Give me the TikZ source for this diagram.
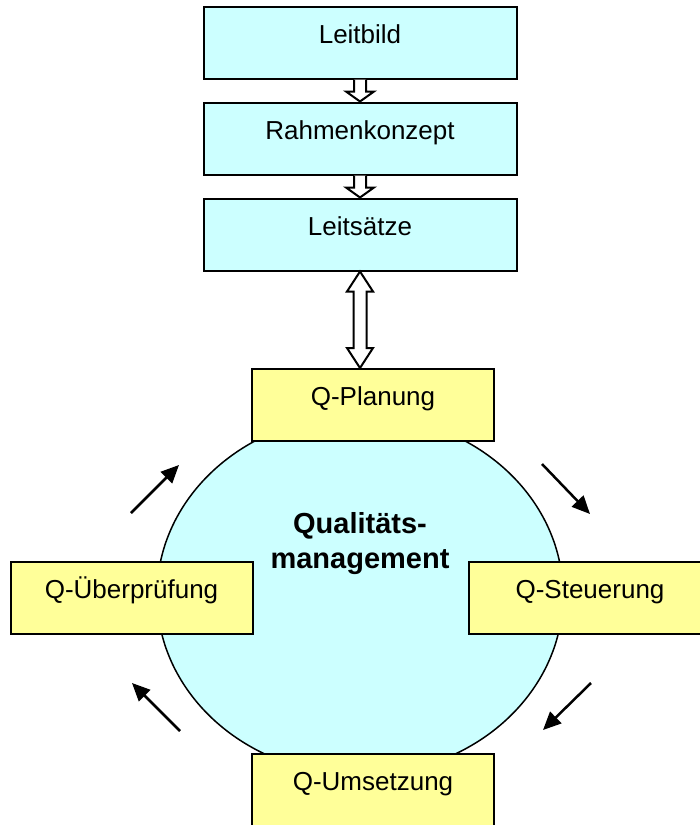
\documentclass[tikz,border=0pt]{standalone}
\usepackage{fontspec}
\setmainfont{Liberation Sans}
\usetikzlibrary{positioning,shapes.geometric,arrows.meta,calc}
\definecolor{boxcyan}{HTML}{CCFFFF}
\definecolor{boxyellow}{HTML}{FFFF99}

\begin{document}
\begin{tikzpicture}[x=0.5pt, y=-0.5pt, node distance=11pt,
  every node/.style={font=\fontsize{13pt}{15pt}\selectfont},
  topbox/.style={draw, line width=1pt, fill=boxcyan, minimum width=156.5pt, minimum height=36pt, inner sep=0pt, text height=18.5pt, text depth=17.5pt},
  qbox/.style={draw, line width=1pt, fill=boxyellow, minimum width=121pt, minimum height=36pt, inner sep=0pt, text height=18pt, text depth=18pt},
  flowarrow/.style={line width=1.25pt, -{Triangle[length=9pt,width=8pt]}},
  hollow/.style={draw, line width=1pt, fill=white, line join=miter}]

\useasboundingbox (0,0) rectangle (700,825);

% Top boxes
\node (leitbild) [topbox] at (360,42.5) {Leitbild};
\node (rahmen) [topbox, below=of leitbild] {Rahmenkonzept};
\node (leitsaetze) [topbox, below=of rahmen] {Leitsätze};

% Hollow arrows
\draw[hollow] ($(leitbild.south)+(-6,0)$) -- ($(rahmen.north)+(-6,-10)$) -- ($(rahmen.north)+(-14,-10)$) -- (rahmen.north) -- ($(rahmen.north)+(14,-10)$) -- ($(rahmen.north)+(6,-10)$) -- ($(leitbild.south)+(6,0)$);
\draw[hollow] ($(rahmen.south)+(-6,0)$) -- ($(leitsaetze.north)+(-6,-10)$) -- ($(leitsaetze.north)+(-14,-10)$) -- (leitsaetze.north) -- ($(leitsaetze.north)+(14,-10)$) -- ($(leitsaetze.north)+(6,-10)$) -- ($(rahmen.south)+(6,0)$);

% Quality cycle
\node (qm) [ellipse, draw, line width=0.75pt, fill=boxcyan, minimum width=203pt, minimum height=180pt, inner sep=0pt] at (360,595) {};
\node (qmlabel) [font=\bfseries\fontsize{14.5pt}{17.5pt}\selectfont, align=center] at (360,544) {Qualitäts-\\management};

\node (planung) [qbox] at (373,405) {Q-Planung};
\node (steuerung) [qbox] at (590,598) {Q-Steuerung};
\node (umsetzung) [qbox] at (373,790) {Q-Umsetzung};
\node (pruefung) [qbox] at (131.5,598) {Q-Überprüfung};

% Double arrow
\coordinate (dtip) at (leitsaetze.south |- planung.north);
\draw[hollow] (leitsaetze.south) -- ($(leitsaetze.south)+(13,20)$) -- ($(leitsaetze.south)+(6.5,20)$) -- ($(dtip)+(6.5,-20)$) -- ($(dtip)+(13,-20)$) -- (dtip) -- ($(dtip)+(-13,-20)$) -- ($(dtip)+(-6.5,-20)$) -- ($(leitsaetze.south)+(-6.5,20)$) -- ($(leitsaetze.south)+(-13,20)$) -- cycle;

% Cycle arrows
\coordinate (a1s) at (131,513); \coordinate (a1e) at (179,465);
\coordinate (a2s) at (542,464); \coordinate (a2e) at (590,514);
\coordinate (a3s) at (591,683); \coordinate (a3e) at (543,730);
\coordinate (a4s) at (180,731); \coordinate (a4e) at (132,683);
\draw[flowarrow] (a1s) -- (a1e);
\draw[flowarrow] (a2s) -- (a2e);
\draw[flowarrow] (a3s) -- (a3e);
\draw[flowarrow] (a4s) -- (a4e);

\end{tikzpicture}
\end{document}
